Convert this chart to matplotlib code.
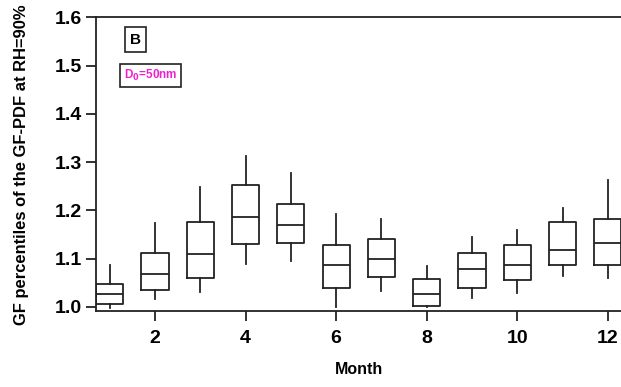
import matplotlib
matplotlib.use("Agg")
import matplotlib.pyplot as plt

plt.rcParams['font.family'] = ['Liberation Sans', 'DejaVu Sans']
plt.rcParams['font.weight'] = 'bold'

# Monthly GF percentile statistics (D0 = 50 nm, RH = 90%)
months = [1, 2, 3, 4, 5, 6, 7, 8, 9, 10, 11, 12]
whisker_low = [0.997, 1.016, 1.032, 1.090, 1.095, 1.001, 1.034, 1.001, 1.018, 1.028, 1.064, 1.061]
q1 = [1.007, 1.036, 1.060, 1.130, 1.132, 1.040, 1.062, 1.003, 1.039, 1.056, 1.086, 1.087]
median = [1.027, 1.068, 1.110, 1.186, 1.169, 1.088, 1.099, 1.027, 1.078, 1.088, 1.118, 1.133]
q3 = [1.047, 1.111, 1.177, 1.252, 1.214, 1.129, 1.140, 1.057, 1.112, 1.128, 1.175, 1.182]
whisker_high = [1.088, 1.173, 1.248, 1.313, 1.277, 1.193, 1.182, 1.084, 1.145, 1.160, 1.206, 1.262]

x_ticks = [2, 4, 6, 8, 10, 12]
y_ticks = [1.0, 1.1, 1.2, 1.3, 1.4, 1.5, 1.6]

W, H = 621, 387
fig = plt.figure(figsize=(W / 100, H / 100), dpi=100)
ax = fig.add_axes([96 / W, 1 - 311 / H, 1 - 96 / W, (311 - 17) / H])

stats = []
for m, wl, a, md, b, wh in zip(months, whisker_low, q1, median, q3, whisker_high):
    stats.append(dict(whislo=wl, q1=a, med=md, q3=b, whishi=wh, label=str(m)))

lc = '#222222'
lw = 1.3
ax.bxp(stats, positions=months, widths=0.6, showfliers=False, showcaps=False,
       boxprops=dict(color=lc, linewidth=lw),
       whiskerprops=dict(color=lc, linewidth=lw),
       medianprops=dict(color=lc, linewidth=lw),
       manage_ticks=False)

ax.set_xlim(0.698, 12.29)
ax.set_ylim(0.9917, 1.6006)
ax.set_xticks(x_ticks)
ax.set_xticklabels([str(t) for t in x_ticks])
ax.set_yticks(y_ticks)
ax.set_yticklabels([f"{t:.1f}" for t in y_ticks])

for s in ['left', 'bottom', 'top']:
    ax.spines[s].set_linewidth(1.3)
    ax.spines[s].set_color(lc)
ax.spines['right'].set_visible(False)

ax.tick_params(axis='both', direction='out', length=7.5, width=1.3, color=lc,
               labelsize=14)
ax.tick_params(axis='x', pad=6)
ax.tick_params(axis='y', pad=2.5)
for lab in ax.get_xticklabels() + ax.get_yticklabels():
    lab.set_fontweight('bold')

ax.set_xlabel('Month', fontsize=11.5, fontweight='bold', labelpad=11)
ax.set_ylabel('GF percentiles of the GF-PDF at RH=90%', fontsize=11.9, fontweight='bold')
ax.yaxis.set_label_coords(29 / W, 1 - 165 / H, transform=fig.transFigure)

ax.text(135.5 / W, 1 - 39.5 / H, 'B', transform=fig.transFigure, fontsize=11,
        fontweight='bold', ha='center', va='center',
        bbox=dict(boxstyle='square,pad=0.35', fc='white', ec=lc, lw=1.2))
ax.text(124 / W, 1 - 75.5 / H, r'D$_\mathbf{0}$=50nm', transform=fig.transFigure,
        fontsize=8.5, fontweight='bold', color='#ee22cc', ha='left', va='center',
        bbox=dict(boxstyle='square,pad=0.3', fc='white', ec=lc, lw=1.2))

fig.savefig('out.png', dpi=100)
